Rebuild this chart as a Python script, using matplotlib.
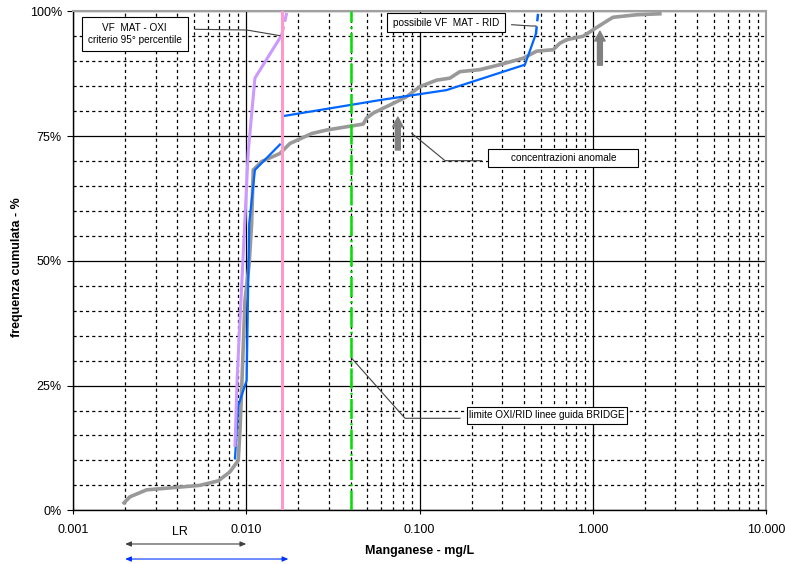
import matplotlib
matplotlib.use("Agg")
import matplotlib.pyplot as plt
from matplotlib.patches import Rectangle
from matplotlib.ticker import FixedLocator, NullFormatter
import matplotlib.transforms as mtransforms

plt.rcParams['font.family'] = ['Liberation Sans', 'DejaVu Sans']

# --- dati (Mn in mg/L, frequenza cumulata in %) ---
grey_x = [0.00197, 0.00213, 0.00266, 0.00396, 0.0054, 0.00689, 0.00805, 0.00899, 0.0092,
          0.0094, 0.00983, 0.0104, 0.01074, 0.01097, 0.01227, 0.01564, 0.01786, 0.02384,
          0.0291, 0.0473, 0.0495, 0.0541, 0.0646, 0.0771, 0.0843, 0.1005, 0.1255, 0.1497,
          0.171, 0.223, 0.291, 0.397, 0.474, 0.591, 0.646, 0.706, 0.881, 1.005, 1.20,
          1.31, 1.79, 2.44]
grey_y = [1.5, 2.7, 4.1, 4.6, 5.0, 5.9, 7.7, 10.0, 16.0, 24.0, 42.0, 49.5, 57.5, 68.2,
          69.9, 71.5, 73.5, 75.5, 76.2, 77.4, 78.6, 79.6, 80.9, 82.2, 82.9, 84.9, 86.2,
          86.6, 87.9, 88.3, 89.3, 90.6, 92.0, 92.3, 93.6, 94.3, 95.0, 96.3, 98.0, 98.8,
          99.3, 99.5]

# VF MAT - OXI
oxi_x = [0.00861, 0.00887, 0.01027, 0.0104, 0.01122, 0.0160]
oxi_y = [13.0, 26.8, 72.0, 74.0, 86.6, 95.2]
oxi_ext_x = [0.0160, 0.0172]
oxi_ext_y = [95.2, 100.0]

# VF MAT - RID (due tratti + estensione tratteggiata)
rid1_x = [0.00861, 0.00899, 0.01005, 0.0104, 0.01122, 0.01564]
rid1_y = [10.4, 21.0, 26.0, 57.5, 68.2, 73.3]
rid2_x = [0.01635, 0.059, 0.143, 0.406, 0.47]
rid2_y = [79.0, 82.2, 84.2, 89.3, 95.5]
rid_ext_x = [0.47, 0.485]
rid_ext_y = [95.5, 100.0]

p95_oxi = 0.016       # criterio 95° percentile
limite_bridge = 0.04  # limite OXI/RID BRIDGE

x_ticks = [0.001, 0.01, 0.1, 1, 10]
x_labels = ['0.001', '0.010', '0.100', '1.000', '10.000']
y_ticks = [0, 25, 50, 75, 100]
y_labels = ['0%', '25%', '50%', '75%', '100%']

fig = plt.figure(figsize=(7.85, 5.64), dpi=100)
ax = fig.add_axes([0.0930, 0.0952, 0.8828, 0.8848])
ax.set_xscale('log')
ax.set_xlim(0.001, 10)
ax.set_ylim(0, 100)

# griglia
ax.xaxis.set_major_locator(FixedLocator(x_ticks))
ax.set_xticklabels(x_labels)
minor_x = [m * d for d in [0.001, 0.01, 0.1, 1] for m in range(2, 10)]
ax.xaxis.set_minor_locator(FixedLocator(minor_x))
ax.xaxis.set_minor_formatter(NullFormatter())
ax.yaxis.set_major_locator(FixedLocator(y_ticks))
ax.set_yticklabels(y_labels)
ax.yaxis.set_minor_locator(FixedLocator([v for v in range(5, 100, 5) if v % 25]))
ax.grid(which='major', color='black', lw=0.9, ls='-')
ax.grid(which='minor', color='black', lw=0.9, ls=(0, (2.5, 2.5)))
ax.set_axisbelow(True)
ax.tick_params(which='minor', length=0)
ax.tick_params(axis='x', which='major', length=3, pad=7, labelsize=9, direction='out')
ax.tick_params(axis='y', which='major', length=4, pad=4, labelsize=9, direction='out')
for s in ['left', 'bottom']:
    ax.spines[s].set_color('black')
    ax.spines[s].set_linewidth(1)
for s in ['top', 'right']:
    ax.spines[s].set_color('#a0a0a0')
    ax.spines[s].set_linewidth(1.5)

# serie
ax.plot(grey_x, grey_y, color='#999999', lw=2.6, zorder=3)
ax.plot(rid1_x, rid1_y, color='#0066FF', lw=1.6, zorder=4)
ax.plot(rid2_x, rid2_y, color='#0066FF', lw=1.6, zorder=4)
ax.plot(rid_ext_x, rid_ext_y, color='#0066FF', lw=1.8, ls=(0, (3, 2)), zorder=4, clip_on=False)
ax.plot(oxi_x, oxi_y, color='#CC99FF', lw=2.2, zorder=5)
ax.plot(oxi_ext_x, oxi_ext_y, color='#CC99FF', lw=2.2, ls=(0, (3, 1.5)), zorder=5)
ax.plot([p95_oxi, p95_oxi], [0.5, 100], color='#FF99CC', lw=2.2, zorder=6)
ax.plot([limite_bridge, limite_bridge], [0, 100], color='#00E000', lw=1.8,
        ls=(0, (8, 1.7, 0.8, 1.7)), zorder=6)

# frecce "concentrazioni anomale"
for xa, y0, y1 in [(0.075, 72.2, 78.8), (1.1, 89.2, 96.0)]:
    ax.annotate('', xy=(xa, y1), xytext=(xa, y0),
                arrowprops=dict(arrowstyle='simple,head_length=0.7,head_width=0.75,tail_width=0.35',
                                color='#808080', mutation_scale=10, shrinkA=0, shrinkB=0),
                zorder=7)

# riquadri con testo
def box(x0, x1, y0, y1, text):
    ax.add_patch(Rectangle((x0, y0), x1 - x0, y1 - y0, transform=ax.transAxes,
                           fc='white', ec='black', lw=0.8, zorder=8))
    ax.text((x0 + x1) / 2, (y0 + y1) / 2, text, transform=ax.transAxes, ha='center',
            va='center', fontsize=7.2, zorder=9, linespacing=1.35)

def leader(xs, ys):
    ax.plot(xs, ys, transform=ax.transAxes, color='#404040', lw=0.8, zorder=8)

box(0.0126, 0.1655, 0.921, 0.988, 'VF  MAT - OXI\ncriterio 95° percentile')
leader([0.1760, 0.2506, 0.2987], [0.9639, 0.9625, 0.9511])
box(0.4527, 0.6234, 0.959, 0.996, 'possibile VF  MAT - RID')
leader([0.6330, 0.6619, 0.6681], [0.9731, 0.9705, 0.9705])
box(0.5993, 0.8157, 0.6886, 0.7234, 'concentrazioni anomale')
leader([0.5897, 0.5368, 0.4887], [0.7006, 0.7006, 0.7555])
box(0.5681, 0.7990, 0.1729, 0.2076, 'limite OXI/RID linee guida BRIDGE')
leader([0.5584, 0.4791, 0.4022], [0.1844, 0.1844, 0.3046])

# LR sotto l'asse
trans = mtransforms.blended_transform_factory(ax.transData, ax.transAxes)
ax.text(0.00416, -0.043, 'LR', transform=trans, ha='center', va='center', fontsize=9)
ax.annotate('', xy=(0.010, -0.0675), xytext=(0.002, -0.0675), xycoords=trans, textcoords=trans,
            arrowprops=dict(arrowstyle='<|-|>,head_length=0.35,head_width=0.15', color='#404040',
                            lw=0.8, mutation_scale=10, shrinkA=0, shrinkB=0), annotation_clip=False)
ax.annotate('', xy=(0.0175, -0.0976), xytext=(0.002, -0.0976), xycoords=trans, textcoords=trans,
            arrowprops=dict(arrowstyle='<|-|>,head_length=0.35,head_width=0.15', color='#0033FF',
                            lw=0.8, mutation_scale=10, shrinkA=0, shrinkB=0), annotation_clip=False)

ax.set_xlabel('Manganese - mg/L', fontsize=9, fontweight='bold')
ax.set_ylabel('frequenza cumulata - %', fontsize=9, fontweight='bold')
ax.xaxis.set_label_coords(0.5, -0.070)
ax.yaxis.set_label_coords(-0.072, 0.4876)

fig.savefig('out.png', dpi=100)
